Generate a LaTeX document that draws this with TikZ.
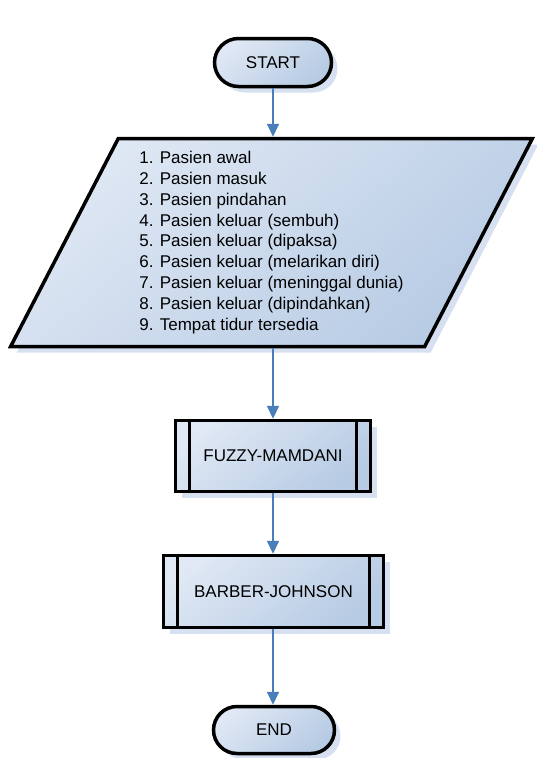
\documentclass[tikz,border=0pt]{standalone}
\usepackage{fontspec}
\setmainfont{Liberation Sans}
\usetikzlibrary{shapes.misc,shapes.geometric,shadows,arrows.meta}
\definecolor{fillA}{HTML}{DFE8F4}
\definecolor{fillB}{HTML}{B7CBE4}
\definecolor{shadowc}{HTML}{D6E0F0}
\definecolor{arrowc}{HTML}{4A7EBB}
\tikzset{
  fc/.style={top color=fillA, bottom color=fillB, shading angle=40,
    draw=black, line width=3.5pt,
    drop shadow={fill=shadowc, opacity=1, shadow xshift=6pt, shadow yshift=-6pt},
    font=\fontsize{17}{20.9}\selectfont, inner sep=0pt},
  term/.style={fc, rounded rectangle},
  io/.style={fc, trapezium, trapezium left angle=63.1, trapezium right angle=116.9,
    trapezium stretches=true},
  proc/.style={fc, rectangle,
    path picture={
      \draw[line width=3.5pt] ([xshift=14pt]path picture bounding box.north west) -- ([xshift=14pt]path picture bounding box.south west);
      \draw[line width=3.5pt] ([xshift=-14pt]path picture bounding box.north east) -- ([xshift=-14pt]path picture bounding box.south east);
    }},
  flow/.style={draw=arrowc, line width=2pt, -{Triangle[width=12pt,length=13pt]}}
}
\begin{document}
\begin{tikzpicture}[x=1pt,y=-1pt]
\useasboundingbox (0,0) rectangle (536,758);
\node[term, minimum width=117pt, minimum height=48pt] (start) at (273,62.5) {START};
\node[io, minimum width=524pt, minimum height=208pt, align=left] (inp) at (271.5,242.5)
  {1. Pasien awal\\
   2. Pasien masuk\\
   3. Pasien pindahan\\
   4. Pasien keluar (sembuh)\\
   5. Pasien keluar (dipaksa)\\
   6. Pasien keluar (melarikan diri)\\
   7. Pasien keluar (meninggal dunia)\\
   8. Pasien keluar (dipindahkan)\\
   9. Tempat tidur tersedia};
\node[proc, minimum width=195pt, minimum height=71pt] (fuzzy) at (273,456) {FUZZY-MAMDANI};
\node[proc, minimum width=220pt, minimum height=72pt] (barber) at (273.5,591.5) {BARBER-JOHNSON};
\node[term, minimum width=121pt, minimum height=47pt] (end) at (274,730) {END};
\draw[flow] (start.south) -- (start.south |- inp.north);
\draw[flow] (fuzzy.north |- inp.south) -- (fuzzy.north);
\draw[flow] (fuzzy.south) -- (fuzzy.south |- barber.north);
\draw[flow] (barber.south -| fuzzy.south) -- (fuzzy.south |- end.north);
\end{tikzpicture}
\end{document}
